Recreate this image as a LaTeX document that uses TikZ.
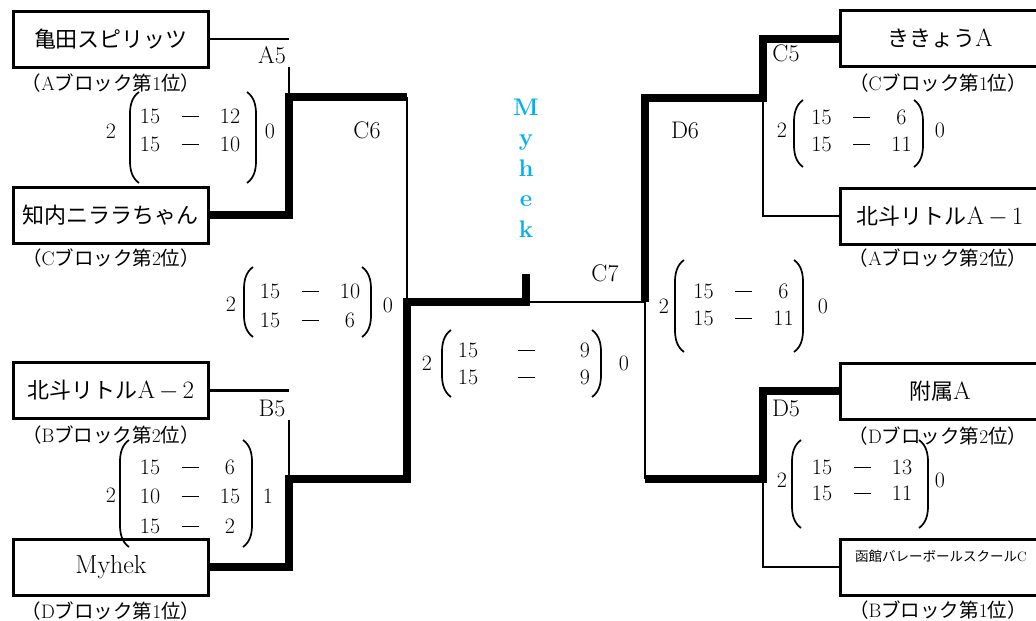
\documentclass[tikz,border=0pt]{standalone}
\usepackage{fontspec}
\newfontfamily\jp{Noto Sans CJK JP}
\usepackage{xcolor}
\usetikzlibrary{matrix}
\definecolor{champblue}{HTML}{00B0F0}

\newcommand{\blocklabel}[2]{{\jp （}#1{\jp ブロック第}#2{\jp 位）}}
\newcommand{\pointdash}{\rule[6.5pt]{17pt}{0.9pt}}
\newcommand{\wide}[1]{{\fontsize{25}{28}\selectfont #1}}
% left and right bracket of a score: x left, x right, y top, y bottom
\newcommand{\scoreparens}[4]{%
  \draw[paren] (#1+9,#3) .. controls (#1+2,#3+5) and (#1,#3+13) .. (#1,#3+22) -- (#1,#4-22) .. controls (#1,#4-13) and (#1+2,#4-5) .. (#1+9,#4);
  \draw[paren] (#2-9,#3) .. controls (#2-2,#3+5) and (#2,#3+13) .. (#2,#3+22) -- (#2,#4-22) .. controls (#2,#4-13) and (#2-2,#4-5) .. (#2-9,#4);
}

\begin{document}
\begin{tikzpicture}[x=1pt,y=-1pt,
  every node/.style={font=\fontsize{22}{26}\selectfont},
  team/.style={draw,line width=3pt,minimum width=195pt,minimum height=56pt,inner sep=0pt},
  blocklab/.style={font=\fontsize{19.5}{22}\selectfont,inner sep=0pt},
  matchlab/.style={inner sep=3pt,font=\fontsize{24}{26}\selectfont},
  thinline/.style={line width=2.6pt},
  thickline/.style={line width=8pt,line join=miter},
  paren/.style={line width=1.7pt},
  score/.style={matrix of nodes,nodes={inner sep=0pt,minimum width=24pt,text height=15pt,text depth=0pt},
    column sep=16pt,row sep=13pt},
  champ/.style={text=champblue,font=\fontsize{24}{26}\selectfont\bfseries,anchor=base}]
  \useasboundingbox (0,0) rectangle (1036,621);

  % teams, left half
  \node[team] (kameda) at (111,39) {\jp 亀田スピリッツ};
  \node[team] (chinai) at (111,215) {\jp 知内ニララちゃん};
  \node[team] (hokuto2) at (111,390.5) {{\jp 北斗リトル}\wide{A$\,-\,$2}};
  \node[team,font=\fontsize{26}{28}\selectfont] (myhek) at (111,567) {Myhek};
  \node[blocklab] (kamedalab) at (111,83) {\blocklabel{A}{1}};
  \node[blocklab] (chinailab) at (111,258) {\blocklabel{C}{2}};
  \node[blocklab] (hokuto2lab) at (111,435) {\blocklabel{B}{2}};
  \node[blocklab] (myheklab) at (111,611) {\blocklabel{D}{1}};

  % teams, right half
  \node[team,minimum width=200pt] (kikyo) at (940,38.5) {{\jp ききょう}\wide{A}};
  \node[team,minimum width=200pt] (hokuto1) at (940,216) {{\jp 北斗リトル}\wide{A$\,-\,$1}};
  \node[team,minimum width=200pt] (fuzoku) at (940,391) {{\jp 附属}\wide{A}};
  \node[team,minimum width=200pt] (hakodate) at (940,567) {};
  \node[font=\fontsize{13.5}{15}\selectfont,inner sep=0pt] (hakodatetext) at (941,556) {{\jp 函館バレーボールスクール}C};
  \node[blocklab] (kikyolab) at (938,83) {\blocklabel{C}{1}};
  \node[blocklab] (hokuto1lab) at (938,258) {\blocklabel{A}{2}};
  \node[blocklab] (fuzokulab) at (938,436) {\blocklabel{D}{2}};
  \node[blocklab] (hakodatelab) at (938,610) {\blocklabel{B}{1}};

  % match labels
  \node[matchlab] (A5lab) at (272,55) {A5};
  \node[matchlab] (B5lab) at (272,408) {B5};
  \node[matchlab] (C6lab) at (367,130) {C6};
  \node[matchlab] (C7lab) at (605,273) {C7};
  \node[matchlab] (D6lab) at (685,130) {D6};
  \node[matchlab] (C5lab) at (786,53) {C5};
  \node[matchlab] (D5lab) at (786,408) {D5};

  % champion
  \foreach \ch [count=\i] in {M,y,h,e,k}
    \node[champ] (champ\i) at (526,84.5+30.5*\i) {\ch};

  \coordinate (A5) at (289,97);
  \coordinate (B5) at (289,479);
  \coordinate (C6) at (407,302);
  \coordinate (C7) at (526,302);
  \coordinate (C7top) at (526,274);
  \coordinate (D6) at (645,302);
  \coordinate (C5) at (763,98);
  \coordinate (D5) at (763,479);

  % bracket lines
  \draw[thinline] (kameda.east) -- (kameda.east -| A5);
  \draw[thinline] (A5lab.south -| A5) -- (A5);
  \draw[thickline] (chinai.east) -| (A5) -- (A5 -| C6);
  \draw[thinline] (A5 -| C6) -- (C6);
  \draw[thinline] (hokuto2.east) -- (hokuto2.east -| B5);
  \draw[thinline] (B5lab.south -| B5) -- (B5);
  \draw[thickline] (myhek.east) -| (B5) -- (B5 -| C6) -- (C6) -| (C7top);
  \draw[thinline] (C7) -- (D6);
  \draw[thickline] (kikyo.west) -| (C5) -- (C5 -| D6) -- (D6);
  \draw[thinline] (C5) |- (hokuto1.west);
  \draw[thinline] (D6) -- (D5 -| D6);
  \draw[thickline] (fuzoku.west) -| (D5) -- (D5 -| D6);
  \draw[thinline] (D5) |- (hakodate.west);

  % scores
  \matrix[score] (A5set) at (190,130) {15 & \pointdash & 12\\ 15 & \pointdash & 10\\};
  \node (A5win) at (111,131) {2};
  \node (A5lose) at (270,131) {0};
  \scoreparens{130}{256}{92}{183}

  \matrix[score,row sep=14.5pt] (B5set) at (190,496) {15 & \pointdash & 6\\ 10 & \pointdash & 15\\ 15 & \pointdash & 2\\};
  \node (B5win) at (111,495) {2};
  \node (B5lose) at (268,496) {1};
  \scoreparens{120}{252}{440}{547}

  \matrix[score,row sep=14pt] (C6set) at (310,305.5) {15 & \pointdash & 10\\ 15 & \pointdash & 6\\};
  \node (C6win) at (231,304) {2};
  \node (C6lose) at (388,305) {0};
  \scoreparens{244}{371}{267}{337}

  \matrix[score,column sep=34.5pt,row sep=12pt] (C7set) at (526.5,363.5) {15 & \pointdash & 9\\ 15 & \pointdash & 9\\};
  \node (C7win) at (427,363) {2};
  \node (C7lose) at (624,363) {0};
  \scoreparens{442}{601}{330}{397}

  \matrix[score,row sep=12pt] (D6set) at (743.5,304.5) {15 & \pointdash & 6\\ 15 & \pointdash & 11\\};
  \node (D6win) at (664,306) {2};
  \node (D6lose) at (823,306) {0};
  \scoreparens{675}{803}{260}{352}

  \matrix[score,row sep=12pt] (C5set) at (861.5,130.5) {15 & \pointdash & 6\\ 15 & \pointdash & 11\\};
  \node (C5win) at (782,130) {2};
  \node (C5lose) at (940,130) {0};
  \scoreparens{794}{923}{100}{167}

  \matrix[score,row sep=11pt] (D5set) at (862,480) {15 & \pointdash & 13\\ 15 & \pointdash & 11\\};
  \node (D5win) at (782,480) {2};
  \node (D5lose) at (940,480) {0};
  \scoreparens{792}{928}{440}{528}
\end{tikzpicture}
\end{document}
